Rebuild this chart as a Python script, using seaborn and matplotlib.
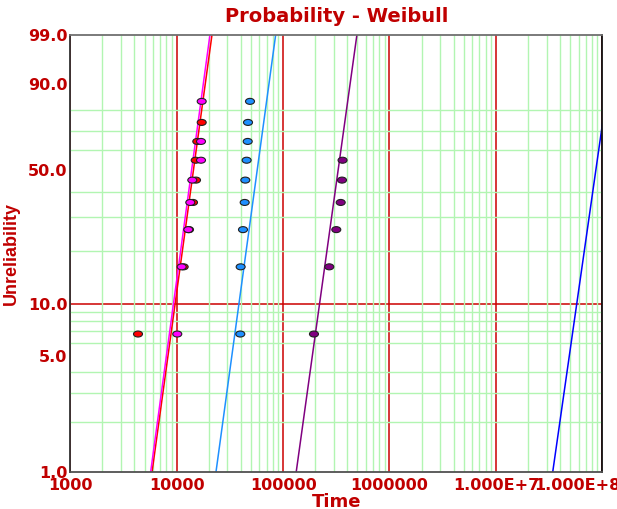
import numpy as np
import pandas as pd
import matplotlib
matplotlib.use("Agg")
import matplotlib.pyplot as plt
import matplotlib.ticker as mticker
import matplotlib.transforms as mtransforms
from matplotlib.path import Path
import seaborn as sns

# failure data: unreliability (%) and time for each data set
red_f = [6.73, 16.35, 25.96, 35.58, 45.19, 54.81, 64.42, 74.04]
red_t = [4330, 11630, 13050, 14230, 15190, 15090, 15620, 17180]
magenta_f = [6.73, 16.35, 25.96, 35.58, 45.19, 54.81, 64.42, 83.65]
magenta_t = [10130, 11140, 12850, 13420, 14020, 16920, 16920, 17180]
blue_f = [6.73, 16.35, 25.96, 35.58, 45.19, 54.81, 64.42, 74.04, 83.65]
blue_t = [39600, 39920, 41990, 43550, 44150, 45450, 46500, 46800, 48860]
purple_f = [6.73, 16.35, 25.96, 35.58, 45.19, 54.81]
purple_t = [195000, 271700, 316200, 347800, 357800, 362000]

# fitted Weibull lines (beta, eta)
fit_names = ["red", "magenta", "blue", "purple", "navy"]
fit_beta = [4.72, 4.77, 4.74, 4.66, 4.53]
fit_eta = [15540, 14920, 61720, 356100, 9.43e7]

x_ticks = [1e3, 1e4, 1e5, 1e6, 1e7, 1e8]
x_labels = ["1000", "10000", "100000", "1000000", "1.000E+7", "1.000E+8"]
y_ticks = [1, 5, 10, 50, 90, 99]
y_labels = ["1.0", "5.0", "10.0", "50.0", "90.0", "99.0"]
y_grid = [2, 3, 4, 5, 6, 7, 8, 9, 20, 30, 40, 50, 60, 70, 80, 90]

colors = {"red": "#FF0000", "magenta": "#FF00FF", "blue": "#1E90FF",
          "purple": "#800080", "navy": "#0000FF"}
TXT = "#C00000"
GREEN = "#B2F5B2"


def fwd(p):
    p = np.clip(np.asarray(p, dtype=float), 1e-6, 100 - 1e-6)
    return np.log(-np.log(1 - p / 100.0))


def inv(y):
    return 100.0 * (1 - np.exp(-np.exp(np.asarray(y, dtype=float))))


pts = pd.concat([
    pd.DataFrame({"t": red_t, "F": red_f, "set": "red"}),
    pd.DataFrame({"t": magenta_t, "F": magenta_f, "set": "magenta"}),
    pd.DataFrame({"t": blue_t, "F": blue_f, "set": "blue"}),
    pd.DataFrame({"t": purple_t, "F": purple_f, "set": "purple"}),
], ignore_index=True)

rows = []
for name, b, eta in zip(fit_names, fit_beta, fit_eta):
    for f in (1.0, 99.0):
        rows.append({"set": name, "F": f, "t": eta * (-np.log(1 - f / 100)) ** (1 / b)})
lines = pd.DataFrame(rows)

sns.set_style("white")
fig = plt.figure(figsize=(6.17, 5.09), dpi=100)
ax = fig.add_axes([0.1139, 0.0721, 0.8623, 0.8597])

ax.set_xscale("log")
ax.set_yscale("function", functions=(fwd, inv))
ax.set_xlim(1e3, 1e8)
ax.set_ylim(1, 99)

# grid
ax.set_axisbelow(True)
ax.xaxis.set_minor_locator(mticker.LogLocator(base=10, subs=np.arange(2, 10)))
ax.xaxis.set_minor_formatter(mticker.NullFormatter())
ax.set_yticks(y_grid, minor=True)
ax.yaxis.set_minor_formatter(mticker.NullFormatter())
ax.grid(which="minor", axis="both", color=GREEN, lw=1.0)
ax.grid(which="major", axis="x", color="#CC0000", lw=1.1)
ax.axhline(10, color="#CC0000", lw=1.1, zorder=0.5)

ellipse = Path(Path.unit_circle().vertices * np.array([1.5, 1.0]), Path.unit_circle().codes)

sns.lineplot(data=lines, x="t", y="F", hue="set", palette=colors, estimator=None,
             sort=False, units="set", legend=False, lw=1.1, ax=ax, zorder=2)
sns.scatterplot(data=pts, x="t", y="F", hue="set", palette=colors, marker=ellipse,
                s=42, edgecolor="#202020", linewidth=0.8, legend=False, ax=ax, zorder=3)

ax.set_xticks(x_ticks)
ax.set_xticklabels(x_labels)
ax.set_yticks(y_ticks)
ax.set_yticklabels(y_labels)
ax.set_xlim(1e3, 1e8)
ax.set_ylim(1, 99)

ax.tick_params(axis="both", which="major", labelsize=11.5, labelcolor=TXT, length=3,
               color="#404040", direction="out")
ax.tick_params(axis="y", which="major", pad=-1)
ax.tick_params(axis="x", which="major", pad=1)
ax.tick_params(axis="both", which="minor", length=0)
for lbl in ax.get_xticklabels() + ax.get_yticklabels():
    lbl.set_fontweight("bold")

# last x label runs off the right edge, as in the source chart
last = ax.get_xticklabels()[-1]
last.set_ha("right")
last.set_transform(last.get_transform()
                   + mtransforms.ScaledTranslation(0.18, 0, fig.dpi_scale_trans))

for side, col in [("left", "#303030"), ("bottom", "#505050"), ("top", "#707070"), ("right", "#101010")]:
    ax.spines[side].set_visible(True)
    ax.spines[side].set_color(col)
    ax.spines[side].set_linewidth(1.3)

ax.set_title("Probability - Weibull", color=TXT, fontsize=14, fontweight="bold", pad=9)
ax.set_xlabel("Time", color=TXT, fontsize=13, fontweight="bold", labelpad=0)
ax.set_ylabel("Unreliability", color=TXT, fontsize=13, fontweight="bold", labelpad=6,
              family=["Liberation Sans", "DejaVu Sans"])

fig.savefig("out.png", dpi=100)
